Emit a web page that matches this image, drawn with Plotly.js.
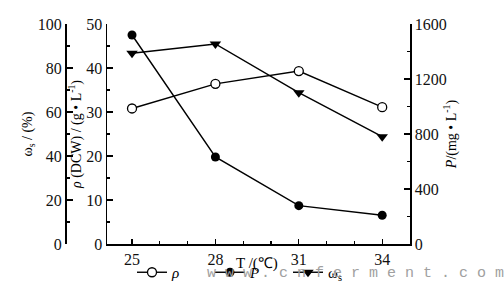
<!DOCTYPE html>
<html>
<head>
<meta charset="utf-8">
<script src="https://cdn.plot.ly/plotly-3.0.1.min.js"></script>
<style>html,body{margin:0;padding:0;background:#fff}#chart{width:504px;height:304px}</style>
</head>
<body>
<div id="chart"></div>
<script>
// Data
const temperature = [25, 28, 31, 34];
const rhoDCW = [30.8, 36.4, 39.3, 31.1];        // g/L, left inner axis
const productP = [1520, 633, 279, 209];         // mg/L, right axis
const omegaS = [86.7, 90.9, 68.8, 48.8];        // %, left outer axis
const xTicks = [25, 28, 31, 34];

const serif = '"Liberation Serif", "Times New Roman", serif';
const W = 504, H = 304;
const px = v => v / W, py = v => 1 - v / H;

const lineStyle = {color: '#000', width: 1.4};

const traces = [
  {x: temperature, y: rhoDCW, name: '<i>ρ</i>', type: 'scatter', mode: 'lines+markers',
   yaxis: 'y', line: lineStyle,
   marker: {symbol: 'circle', size: 9, color: '#fff', line: {color: '#000', width: 1.3}}},
  {x: temperature, y: productP, name: '<i>P</i>', type: 'scatter', mode: 'lines+markers',
   yaxis: 'y3', line: lineStyle,
   marker: {symbol: 'circle', size: 9, color: '#000'}},
  {x: temperature, y: omegaS, name: 'ω<sub>s</sub>', type: 'scatter', mode: 'lines+markers',
   yaxis: 'y2', line: lineStyle,
   marker: {symbol: 'triangle-down', size: 10, color: '#000'}}
];

const axisCommon = {
  showline: true, linecolor: '#000', linewidth: 1.5, showgrid: false, zeroline: false,
  ticks: 'inside', ticklen: 6, tickwidth: 1.3, tickcolor: '#000',
  tickfont: {family: serif, size: 16, color: '#111'},
  automargin: false, fixedrange: true
};

const layout = {
  width: W, height: H,
  margin: {l: 0, r: 0, t: 0, b: 0, autoexpand: false},
  paper_bgcolor: '#fff', plot_bgcolor: '#fff',
  font: {family: serif, color: '#000'},
  showlegend: true,
  legend: {orientation: 'h', x: px(132), y: py(256), xanchor: 'left', yanchor: 'top',
           font: {family: serif, size: 15, color: '#000'}, entrywidth: 33, entrywidthmode: 'pixels',
           bgcolor: 'rgba(0,0,0,0)', borderwidth: 0, tracegroupgap: 0, itemwidth: 30},
  xaxis: Object.assign({}, axisCommon, {
    domain: [px(107), px(410)], range: [24.1, 35], anchor: 'y',
    tickvals: xTicks, ticktext: xTicks.map(String), ticklen: 5,
    minor: {dtick: 1, tick0: 25, ticks: 'inside', ticklen: 3, tickcolor: '#000'}
  }),
  yaxis: Object.assign({}, axisCommon, {
    domain: [py(244), py(24)], range: [0, 50], dtick: 10, anchor: 'x', side: 'left',
    minor: {dtick: 5, ticks: 'inside', ticklen: 3, tickcolor: '#000'},
    title: {text: '<i>ρ</i> (DCW) / (g • L<sup>-1</sup>)', font: {family: serif, size: 14}, standoff: 1}
  }),
  yaxis2: Object.assign({}, axisCommon, {
    overlaying: 'y', anchor: 'free', position: px(65), side: 'left',
    range: [0, 100], dtick: 20,
    minor: {dtick: 10, ticks: 'inside', ticklen: 3, tickcolor: '#000'},
    title: {text: 'ω<sub>s</sub> / (%)', font: {family: serif, size: 14}, standoff: 0}
  }),
  yaxis3: Object.assign({}, axisCommon, {
    overlaying: 'y', anchor: 'x', side: 'right',
    range: [0, 1600], dtick: 400,
    minor: {dtick: 200, ticks: 'inside', ticklen: 3, tickcolor: '#000'},
    title: {text: '<i>P</i>/(mg • L<sup>-1</sup>)', font: {family: serif, size: 14}, standoff: 0}
  }),
  annotations: [
    {text: 'T /(℃)', xref: 'paper', yref: 'paper', x: px(257), y: py(263),
     xanchor: 'center', yanchor: 'middle', showarrow: false,
     font: {family: serif, size: 15, color: '#000'}},
    {text: 'w w w . c n f e r m e n t . c o m', xref: 'paper', yref: 'paper',
     x: px(205), y: py(273), xanchor: 'left', yanchor: 'middle', showarrow: false,
     font: {family: '"Liberation Mono", monospace', size: 15, color: '#a0a0a0'}}
  ]
};

Plotly.newPlot('chart', traces, layout, {displayModeBar: false, staticPlot: true});
</script>
</body>
</html>
